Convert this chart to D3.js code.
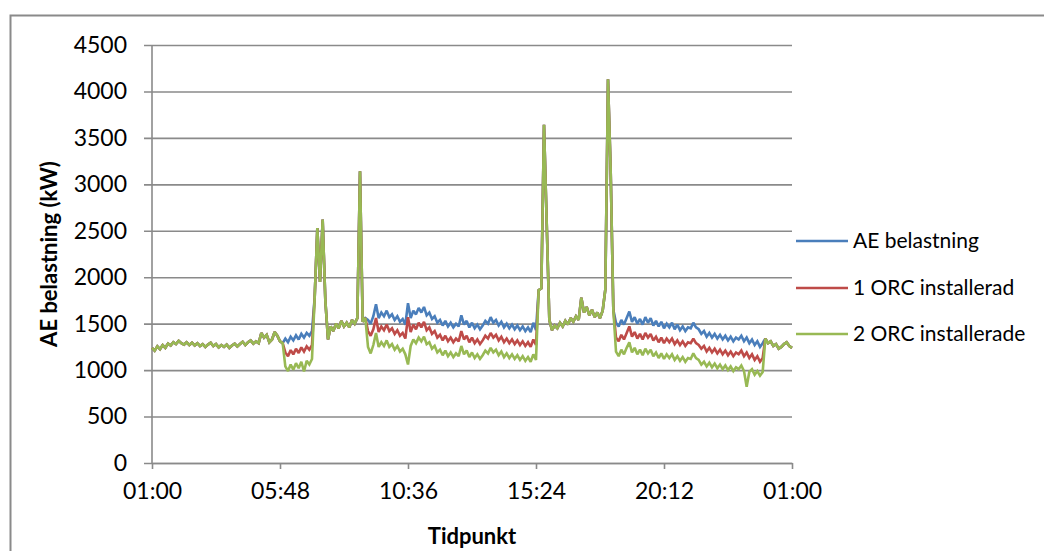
<!DOCTYPE html>
<html>
<head>
<meta charset="utf-8">
<script src="https://cdn.jsdelivr.net/npm/d3@7"></script>
<style>
  html, body { margin: 0; padding: 0; background: #fff; }
  svg text { font-family: Lato, "Open Sans", sans-serif; fill: #000; }
</style>
</head>
<body>
<svg id="chart" width="1044" height="551"></svg>
<script>
// Sampling: one reading every 6 minutes, starting 01:00, over 24 hours
const startLabel = "01:00";
const stepMinutes = 6;

const seriesNames = ["AE belastning", "1 ORC installerad", "2 ORC installerade"];
const seriesColors = ["#4A7EBB", "#BE4B48", "#98B954"];

const xTickMinutes = [0, 288, 576, 864, 1152, 1440];
const xTickLabels = ["01:00", "05:48", "10:36", "15:24", "20:12", "01:00"];
const yTicks = [0, 500, 1000, 1500, 2000, 2500, 3000, 3500, 4000, 4500];

// AE belastning (kW)
const loadBase = [
  1240, 1210, 1255, 1225, 1270, 1240, 1285, 1265, 1300, 1280,
  1315, 1290, 1275, 1300, 1270, 1295, 1265, 1290, 1260, 1280,
  1250, 1275, 1295, 1260, 1280, 1245, 1270, 1250, 1275, 1240,
  1265, 1285, 1255, 1280, 1305, 1270, 1300, 1320, 1285, 1310,
  1290, 1400, 1350, 1380, 1300, 1330, 1410, 1370, 1310, 1290,
  1340, 1300, 1360, 1320, 1375, 1330, 1390, 1350, 1400, 1370, 1420,
  1780, 2530, 1950, 2620, 1750, 1330, 1470, 1420, 1500, 1450,
  1530, 1470, 1510, 1460, 1540, 1500, 1560, 3140, 1520, 1560,
  1540, 1500, 1580, 1710, 1560, 1620, 1580, 1640, 1570, 1600,
  1540, 1580, 1520, 1550, 1490, 1720, 1560, 1640, 1600, 1670,
  1620, 1680, 1590, 1620, 1550, 1580, 1510, 1540, 1480, 1530,
  1470, 1510, 1460, 1500, 1470, 1590, 1490, 1530, 1460, 1510,
  1450, 1490, 1440, 1480, 1530, 1500, 1570, 1510, 1540, 1480,
  1520, 1460, 1500, 1450, 1490, 1440, 1480, 1430, 1470, 1420,
  1460, 1410, 1510, 1430,
  1860, 1880, 3640, 2600, 1540, 1430, 1480, 1450, 1510, 1470,
  1530, 1490, 1560, 1520, 1580, 1540, 1780, 1620, 1680, 1590,
  1650, 1570, 1620, 1560, 1640, 1870, 4130, 3150, 1650,
  1510, 1470, 1540, 1490, 1560, 1630, 1520, 1570, 1500, 1550,
  1490, 1570, 1510, 1560, 1480, 1530, 1470, 1520, 1450, 1500,
  1460, 1510, 1440, 1490, 1430, 1470, 1420, 1460, 1450, 1510,
  1460, 1440, 1390, 1420, 1360, 1400, 1350, 1390, 1340, 1380,
  1330, 1370, 1320, 1360, 1310, 1350, 1330, 1370, 1310, 1350,
  1290, 1330, 1270, 1310, 1250, 1290,
  1340, 1290, 1310, 1260, 1280, 1230, 1250, 1280, 1300, 1260, 1240
];

// 1 ORC installerad (kW)
const loadOneOrc = [
  1240, 1210, 1255, 1225, 1270, 1240, 1285, 1265, 1300, 1280,
  1315, 1290, 1275, 1300, 1270, 1295, 1265, 1290, 1260, 1280,
  1250, 1275, 1295, 1260, 1280, 1245, 1270, 1250, 1275, 1240,
  1265, 1285, 1255, 1280, 1305, 1270, 1300, 1320, 1285, 1310,
  1290, 1400, 1350, 1380, 1300, 1330, 1410, 1370, 1310, 1290,
  1190, 1150, 1215, 1170, 1230, 1185, 1245, 1200, 1255, 1220, 1270,
  1780, 2530, 1950, 2620, 1750, 1330, 1470, 1420, 1500, 1450,
  1530, 1470, 1510, 1460, 1540, 1500, 1560, 3140, 1520, 1560,
  1420, 1370, 1440, 1560, 1410, 1470, 1430, 1490, 1420, 1450,
  1390, 1430, 1370, 1400, 1340, 1570, 1410, 1490, 1440, 1510,
  1460, 1520, 1430, 1460, 1390, 1420, 1350, 1380, 1320, 1370,
  1310, 1350, 1300, 1340, 1310, 1420, 1330, 1370, 1300, 1350,
  1290, 1330, 1280, 1320, 1370, 1340, 1400, 1350, 1380, 1320,
  1360, 1300, 1340, 1290, 1330, 1280, 1320, 1270, 1310, 1260,
  1300, 1250, 1330, 1270,
  1860, 1880, 3640, 2600, 1540, 1430, 1480, 1450, 1510, 1470,
  1530, 1490, 1560, 1520, 1580, 1540, 1780, 1620, 1680, 1590,
  1650, 1570, 1620, 1560, 1640, 1870, 4130, 3150, 1650,
  1350, 1310, 1380, 1330, 1400, 1470, 1360, 1410, 1340, 1390,
  1330, 1400, 1350, 1390, 1320, 1360, 1300, 1350, 1290, 1340,
  1300, 1340, 1280, 1320, 1270, 1310, 1260, 1300, 1290, 1340,
  1290, 1270, 1230, 1260, 1200, 1240, 1190, 1230, 1180, 1220,
  1170, 1210, 1160, 1200, 1150, 1190, 1170, 1210, 1150, 1190,
  1130, 1170, 1110, 1150, 1090, 1130,
  1340, 1290, 1310, 1260, 1280, 1230, 1250, 1280, 1300, 1260, 1240
];

// 2 ORC installerade (kW)
const loadTwoOrc = [
  1240, 1210, 1255, 1225, 1270, 1240, 1285, 1265, 1300, 1280,
  1315, 1290, 1275, 1300, 1270, 1295, 1265, 1290, 1260, 1280,
  1250, 1275, 1295, 1260, 1280, 1245, 1270, 1250, 1275, 1240,
  1265, 1285, 1255, 1280, 1305, 1270, 1300, 1320, 1285, 1310,
  1290, 1400, 1350, 1380, 1300, 1330, 1410, 1370, 1310, 1290,
  1040, 990, 1060, 1005, 1075, 1020, 1090, 985, 1100, 1060, 1120,
  1780, 2530, 1950, 2620, 1750, 1330, 1470, 1420, 1500, 1450,
  1530, 1470, 1510, 1460, 1540, 1500, 1560, 3140, 1520, 1560,
  1250, 1180, 1270, 1400, 1250, 1300, 1260, 1320, 1250, 1280,
  1220, 1260, 1200, 1230, 1170, 1060, 1260, 1330, 1290, 1350,
  1310, 1360, 1280, 1300, 1230, 1260, 1190, 1220, 1160, 1210,
  1150, 1190, 1140, 1180, 1150, 1260, 1170, 1210, 1140, 1190,
  1130, 1170, 1120, 1160, 1210, 1180, 1240, 1190, 1220, 1160,
  1200, 1140, 1180, 1130, 1170, 1120, 1160, 1110, 1150, 1100,
  1140, 1090, 1170, 1110,
  1860, 1880, 3640, 2600, 1540, 1430, 1480, 1450, 1510, 1470,
  1530, 1490, 1560, 1520, 1580, 1540, 1780, 1620, 1680, 1590,
  1650, 1570, 1620, 1560, 1640, 1870, 4130, 3150, 1650,
  1200, 1150, 1220, 1170, 1240, 1300, 1190, 1240, 1170, 1220,
  1160, 1230, 1180, 1220, 1150, 1190, 1130, 1180, 1120, 1170,
  1130, 1170, 1110, 1150, 1100, 1140, 1090, 1130, 1120, 1180,
  1130, 1110, 1060, 1090, 1040, 1080, 1030, 1070, 1020, 1060,
  1010, 1050, 1000, 1040, 990, 1030, 1010, 1050, 990, 820,
  980, 1010, 950, 990, 940, 980,
  1340, 1290, 1310, 1260, 1280, 1230, 1250, 1280, 1300, 1260, 1240
];

const seriesValues = [loadBase, loadOneOrc, loadTwoOrc];

const svg = d3.select("#chart");

// Chart frame
svg.append("rect")
  .attr("x", 10.5).attr("y", 15.5)
  .attr("width", 1060).attr("height", 560)
  .attr("fill", "none").attr("stroke", "#8a8a8a").attr("stroke-width", 2);

const plot = { left: 152, right: 792, top: 45, bottom: 463 };

const x = d3.scaleLinear().domain([0, 1440]).range([plot.left, plot.right]);
const y = d3.scaleLinear().domain([0, 4500]).range([plot.bottom, plot.top]);

// Horizontal gridlines + y labels
const yAxis = d3.axisLeft(y)
  .tickValues(yTicks)
  .tickSizeInner(plot.right - 144)
  .tickSizeOuter(0)
  .tickPadding(17)
  .tickFormat(d3.format("d"));

const gy = svg.append("g")
  .attr("transform", `translate(${plot.right},0)`)
  .call(yAxis);
gy.select(".domain").remove();
gy.selectAll(".tick line").attr("stroke", "#8a8a8a").attr("stroke-width", 1.6);
gy.selectAll(".tick text")
  .attr("font-size", 23)
  .style("font-family", "Lato, sans-serif");

// Vertical axis line
svg.append("line")
  .attr("x1", plot.left).attr("x2", plot.left)
  .attr("y1", plot.top).attr("y2", plot.bottom)
  .attr("stroke", "#8a8a8a").attr("stroke-width", 1.6);

// X axis
const xAxis = d3.axisBottom(x)
  .tickValues(xTickMinutes)
  .tickSizeInner(6)
  .tickSizeOuter(0)
  .tickPadding(14)
  .tickFormat((d, i) => xTickLabels[i]);

const gx = svg.append("g")
  .attr("transform", `translate(0,${plot.bottom})`)
  .call(xAxis);
gx.select(".domain").attr("stroke", "#8a8a8a").attr("stroke-width", 1.6);
gx.selectAll(".tick line").attr("stroke", "#8a8a8a").attr("stroke-width", 1.6);
gx.selectAll(".tick text")
  .attr("font-size", 23)
  .style("font-family", "Lato, sans-serif");

// Series lines
const line = d3.line()
  .x((d, i) => x(i * stepMinutes))
  .y(d => y(d));

seriesValues.forEach((vals, k) => {
  svg.append("path")
    .datum(vals)
    .attr("d", line)
    .attr("fill", "none")
    .attr("stroke", seriesColors[k])
    .attr("stroke-width", 2.6)
    .attr("stroke-linejoin", "miter")
    .attr("stroke-miterlimit", 2);
});

// Axis titles
svg.append("text")
  .attr("transform", "translate(57,254) rotate(-90)")
  .attr("text-anchor", "middle")
  .attr("font-size", 22)
  .attr("font-weight", "bold")
  .text("AE belastning (kW)");

svg.append("text")
  .attr("x", 472).attr("y", 544)
  .attr("text-anchor", "middle")
  .attr("font-size", 22)
  .attr("font-weight", "bold")
  .text("Tidpunkt");

// Legend
const legendY = [241, 288, 334];
seriesNames.forEach((name, k) => {
  svg.append("line")
    .attr("x1", 796).attr("x2", 848)
    .attr("y1", legendY[k]).attr("y2", legendY[k])
    .attr("stroke", seriesColors[k]).attr("stroke-width", 2.6);
  svg.append("text")
    .attr("x", 853).attr("y", legendY[k])
    .attr("dy", "0.35em")
    .attr("font-size", 21)
    .text(name);
});
</script>
</body>
</html>
